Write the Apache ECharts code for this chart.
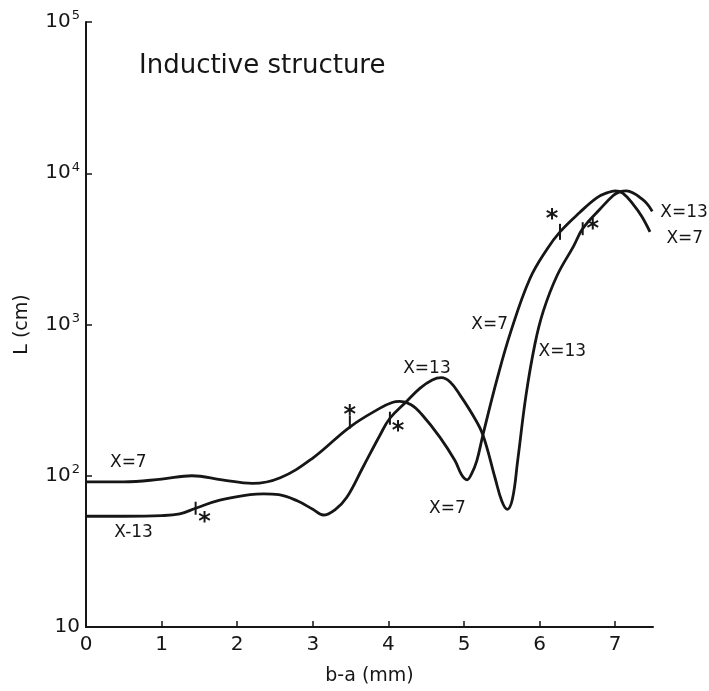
<!DOCTYPE html>
<html>
<head>
<meta charset="utf-8">
<script src="https://cdn.jsdelivr.net/npm/echarts@6/dist/echarts.min.js"></script>
<style>html,body{margin:0;padding:0;background:#fff;}#c{width:709px;height:691px;}</style>
</head>
<body>
<div id="c"></div>
<script>
// ---- data ----
const xTicks = [0, 1, 2, 3, 4, 5, 6, 7];
const yTicks = [10, 100, 1000, 10000, 100000];

const x7 = [0, 0.5, 1.0, 1.4, 1.8, 2.2, 2.57, 3.0, 3.49, 3.89, 4.05, 4.15, 4.3, 4.44, 4.68, 4.88, 4.97, 5.04, 5.1, 5.17, 5.25, 5.44, 5.62, 5.87, 6.1, 6.27, 6.53, 6.76, 6.9, 7.0, 7.1, 7.24, 7.35, 7.46];
const y7 = [91, 91, 95, 100, 94, 89, 97, 131, 210, 280, 305, 310, 295, 255, 180, 126, 101, 94, 103, 126, 186, 440, 900, 2000, 3160, 4100, 5500, 6900, 7450, 7650, 7400, 6200, 5200, 4100];

const x13 = [0, 0.5, 1.0, 1.24, 1.45, 1.77, 2.17, 2.35, 2.55, 2.8, 3.0, 3.14, 3.3, 3.45, 3.66, 3.89, 4.02, 4.24, 4.42, 4.58, 4.7, 4.82, 4.95, 5.12, 5.25, 5.41, 5.5, 5.57, 5.64, 5.71, 5.82, 5.94, 6.05, 6.23, 6.45, 6.57, 6.8, 6.97, 7.05, 7.15, 7.25, 7.33, 7.42, 7.49];
const y13 = [54, 54, 54.5, 56, 61, 69, 75, 76, 75, 68, 60, 55, 60, 72, 113, 186, 240, 310, 380, 430, 445, 415, 340, 250, 186, 97, 68, 60, 70, 126, 340, 750, 1230, 2100, 3300, 4300, 5800, 7100, 7500, 7650, 7350, 6900, 6300, 5600];

// marked points (tick + asterisk)
const markX7 = [3.49, 6.27];
const markY7 = [210, 4100];
const markX13 = [1.45, 4.02, 6.57];
const markY13 = [61, 240, 4300];

// curve labels
const labelX = [0.56, 0.63, 4.51, 4.78, 5.34, 6.30, 7.91, 7.92];
const labelY = [122, 42, 515, 61, 1000, 660, 5500, 3700];
const labelText = ['X=7', 'X-13', 'X=13', 'X=7', 'X=7', 'X=13', 'X=13', 'X=7'];

const FONT = 'DejaVu Sans';
const INK = '#161616';

const chart = echarts.init(document.getElementById('c'));
const zip = (xs, ys) => xs.map((x, i) => [x, ys[i]]);

const option = {
  animation: false,
  backgroundColor: '#fff',
  title: {
    text: 'Inductive structure',
    left: 134, top: 48,
    textStyle: { fontFamily: FONT, fontSize: 26, fontWeight: 'normal', color: INK }
  },
  grid: { left: 86, right: 56, top: 22, bottom: 61, containLabel: false },
  xAxis: {
    type: 'value', min: 0, max: 7.5, interval: 1,
    name: 'b-a (mm)', nameLocation: 'middle', nameGap: 40,
    nameTextStyle: { fontFamily: FONT, fontSize: 19, color: INK },
    axisLine: { show: true, lineStyle: { color: INK, width: 2 } },
    axisTick: { show: true, inside: true, length: 6, lineStyle: { color: INK, width: 1.5 }, customValues: xTicks },
    axisLabel: { fontFamily: FONT, fontSize: 20, color: INK, margin: 8, customValues: xTicks },
    splitLine: { show: false }
  },
  yAxis: {
    type: 'log', logBase: 10, min: 10, max: 100000,
    name: 'L (cm)', nameLocation: 'middle', nameGap: 54, nameRotate: 90,
    nameTextStyle: { fontFamily: FONT, fontSize: 19, color: INK },
    axisLine: { show: true, lineStyle: { color: INK, width: 2 } },
    axisTick: { show: true, inside: true, length: 6, lineStyle: { color: INK, width: 1.5 } },
    axisLabel: {
      fontFamily: FONT, fontSize: 20, color: INK, margin: 6,
      formatter: function (v) {
        const e = Math.round(Math.log10(v));
        return e === 1 ? '10' : '10{s|' + e + '}';
      },
      rich: { s: { fontFamily: FONT, fontSize: 13, verticalAlign: 'top', padding: [0, 0, 12, 1], color: INK } }
    },
    splitLine: { show: false }
  },
  series: [
    {
      name: 'X=7', type: 'line', data: zip(x7, y7), smooth: 0.4, symbol: 'none',
      lineStyle: { color: INK, width: 2.8 }, z: 3
    },
    {
      name: 'X=13', type: 'line', data: zip(x13, y13), smooth: 0.4, symbol: 'none',
      lineStyle: { color: INK, width: 2.8 }, z: 3
    },
    {
      type: 'scatter', z: 4, silent: true,
      data: [
        { value: [markX7[0], markY7[0]], symbolOffset: [0, -5], label: { offset: [0, -6] } },
        { value: [markX7[1], markY7[1]], symbolSize: [2, 16], label: { offset: [-8, -12] } },
        { value: [markX13[0], markY13[0]], label: { offset: [9, 15] } },
        { value: [markX13[1], markY13[1]], label: { offset: [8, 14] } },
        { value: [markX13[2], markY13[2]], label: { offset: [10, 1] } }
      ],
      symbol: 'rect', symbolSize: [2, 13],
      itemStyle: { color: INK, opacity: 1 },
      label: {
        show: true, position: 'inside', formatter: '*',
        fontFamily: FONT, fontSize: 24, fontWeight: 'bold', color: INK,
        verticalAlign: 'middle', align: 'center'
      }
    },
    {
      type: 'scatter', z: 5, silent: true, clip: false,
      data: labelX.map((x, i) => ({ value: [x, labelY[i]], name: labelText[i] })),
      symbol: 'circle', symbolSize: 0,
      itemStyle: { opacity: 1 },
      label: {
        show: true, position: 'inside', formatter: '{b}',
        fontFamily: FONT, fontSize: 17, color: INK
      }
    }
  ]
};
chart.setOption(option);
</script>
</body>
</html>
